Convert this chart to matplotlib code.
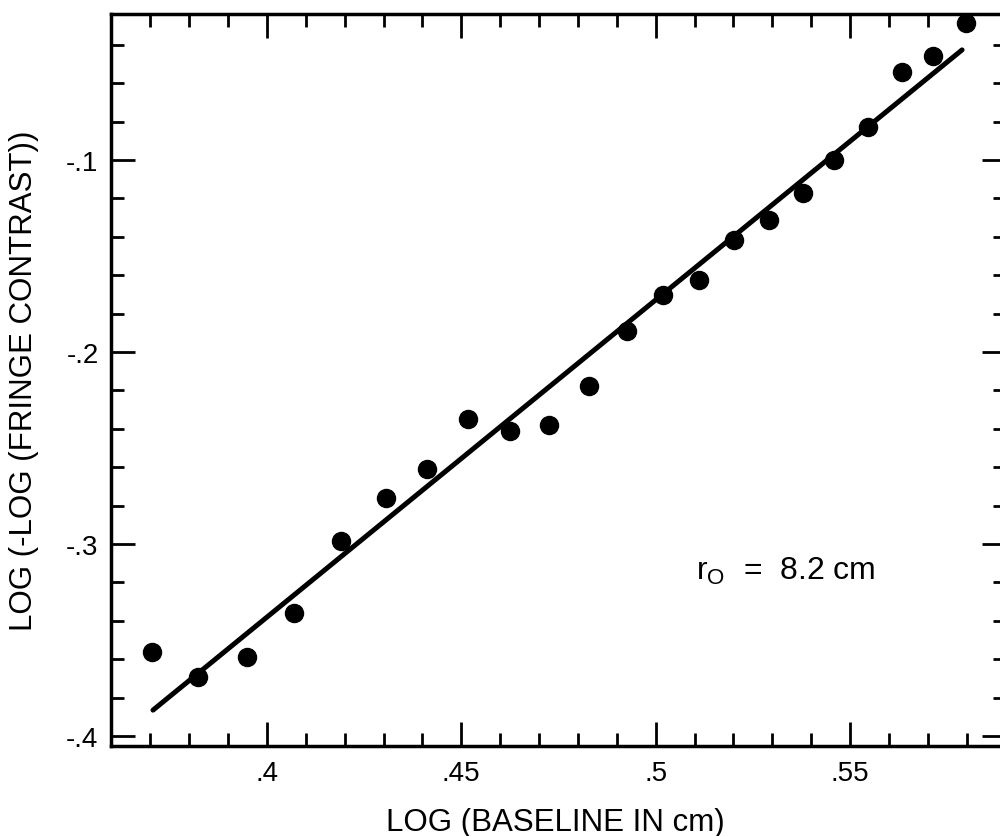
import matplotlib
matplotlib.use("Agg")
import matplotlib.pyplot as plt
from matplotlib.ticker import MultipleLocator, FixedLocator, FixedFormatter

plt.rcParams["font.family"] = ["Liberation Sans", "DejaVu Sans"]
plt.rcParams["mathtext.fontset"] = "custom"
plt.rcParams["mathtext.rm"] = "Liberation Sans"

# measured points: log(baseline) vs log(-log(fringe contrast))
log_baseline = [0.3704, 0.3822, 0.3949, 0.4069, 0.4190, 0.4306, 0.4412, 0.4517,
                0.4625, 0.4726, 0.4828, 0.4926, 0.5019, 0.5111, 0.5201, 0.5291,
                0.5379, 0.5459, 0.5546, 0.5634, 0.5713, 0.5798]
log_contrast = [-0.3563, -0.3693, -0.3589, -0.3359, -0.2984, -0.2760, -0.2609, -0.2349,
                -0.2411, -0.2380, -0.2177, -0.1891, -0.1703, -0.1625, -0.1417, -0.1313,
                -0.1172, -0.1000, -0.0828, -0.0542, -0.0458, -0.0286]

# fitted line end points
fit_x = [0.3707, 0.5788]
fit_y = [-0.3865, -0.0427]

x_ticks = [0.40, 0.45, 0.50, 0.55]
x_labels = [".4", ".45", ".5", ".55"]
y_ticks = [-0.4, -0.3, -0.2, -0.1]
y_labels = ["-.4", "-.3", "-.2", "-.1"]

fig = plt.figure(figsize=(10, 8.37), dpi=100)
ax = fig.add_axes([0.111, 0.1075, 0.895, 0.8746])

ax.plot(fit_x, fit_y, color="black", lw=3.6, solid_capstyle="round", zorder=2)
ax.plot(log_baseline, log_contrast, "o", color="black", ms=13, zorder=3)

ax.set_xlim(0.3599, 0.5901)
ax.set_ylim(-0.4052, -0.0240)

ax.xaxis.set_major_locator(FixedLocator(x_ticks))
ax.xaxis.set_major_formatter(FixedFormatter(x_labels))
ax.xaxis.set_minor_locator(MultipleLocator(0.01))
ax.yaxis.set_major_locator(FixedLocator(y_ticks))
ax.yaxis.set_major_formatter(FixedFormatter(y_labels))
ax.yaxis.set_minor_locator(MultipleLocator(0.02))

ax.tick_params(which="both", direction="in", top=True, right=True,
               width=2.0, colors="black", labelsize=20)
ax.tick_params(which="major", length=17)
ax.tick_params(which="minor", length=9.5)
ax.tick_params(axis="x", which="major", pad=10)
ax.tick_params(axis="y", which="major", pad=9)

for s in ax.spines.values():
    s.set_linewidth(2.5)

ax.set_xlabel("LOG (BASELINE IN cm)", fontsize=22.5)
ax.set_ylabel("LOG (-LOG (FRINGE CONTRAST))", fontsize=22.5)
ax.xaxis.set_label_coords(0.497, -0.083)
ax.yaxis.set_label_coords(-0.080, 0.5)

ax.text(0.5103, -0.3182, r"r$_{\mathrm{O}}$  =  8.2 cm", fontsize=23,
        ha="left", va="baseline")

fig.savefig("out.png", dpi=100)
